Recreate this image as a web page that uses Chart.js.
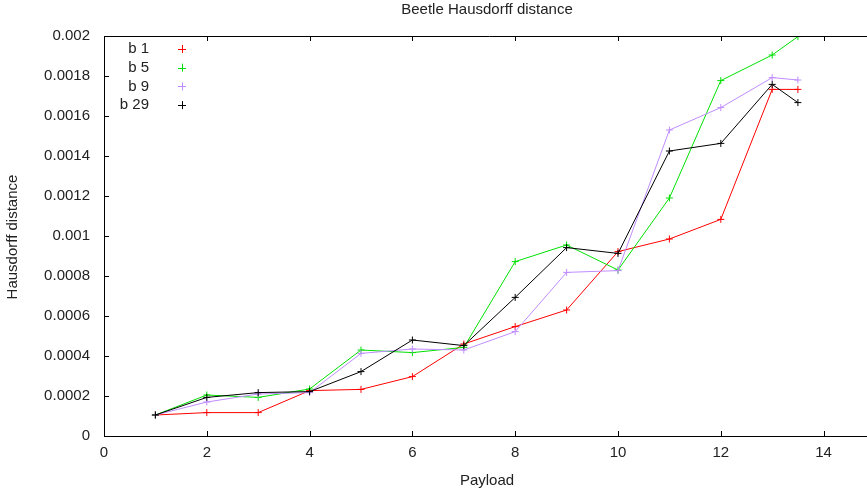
<!DOCTYPE html>
<html>
<head>
<meta charset="utf-8">
<script src="https://cdn.jsdelivr.net/npm/chart.js@4/dist/chart.umd.min.js"></script>
<style>
  html, body { margin: 0; padding: 0; background: #fff; overflow: hidden; }
  #wrap { width: 880px; height: 496px; position: relative; }
</style>
</head>
<body>
<div id="wrap"><canvas id="myChart" width="880" height="496"></canvas></div>
<script>
const payload = [1, 2, 3, 4, 5, 6, 7, 8, 9, 10, 11, 12, 13, 13.5];
const b1  = [0.000105, 0.000117, 0.000117, 0.000227, 0.000233, 0.000297, 0.000460, 0.000547, 0.000630, 0.000922, 0.000985, 0.001083, 0.001733, 0.001733];
const b5  = [0.000105, 0.000205, 0.000193, 0.000235, 0.000430, 0.000417, 0.000443, 0.000872, 0.000955, 0.000830, 0.001190, 0.001777, 0.001905, 0.001997];
const b9  = [0.000105, 0.000170, 0.000210, 0.000217, 0.000413, 0.000435, 0.000430, 0.000522, 0.000818, 0.000827, 0.001530, 0.001642, 0.001792, 0.001780];
const b29 = [0.000105, 0.000193, 0.000217, 0.000222, 0.000322, 0.000480, 0.000452, 0.000693, 0.000942, 0.000913, 0.001425, 0.001463, 0.001758, 0.001667];
const seriesNames = ["b 1", "b 5", "b 9", "b 29"];
const seriesColors = ["#ff0000", "#00e000", "#c08cff", "#000000"];
const xTicks = [0, 2, 4, 6, 8, 10, 12, 14];
const yTicks = [0, 0.0002, 0.0004, 0.0006, 0.0008, 0.001, 0.0012, 0.0014, 0.0016, 0.0018, 0.002];

const FONT = "'Liberation Sans', Arial, sans-serif";

function toPoints(values) {
  return values.map((v, i) => ({ x: payload[i], y: v }));
}

const allSeries = [b1, b5, b9, b29];
const datasets = allSeries.map((vals, i) => ({
  label: seriesNames[i],
  data: toPoints(vals),
  borderColor: seriesColors[i],
  backgroundColor: seriesColors[i],
  borderWidth: 1,
  pointStyle: "cross",
  pointRadius: 3.5,
  pointBorderWidth: 1,
  pointHoverRadius: 3.5,
  tension: 0,
  order: allSeries.length - i,
}));

// gnuplot-like frame, inward ticks, titles and key
const frame = {
  id: "frame",
  afterDraw(chart) {
    const c = chart.ctx;
    const a = chart.chartArea;
    const xs = chart.scales.x;
    const ys = chart.scales.y;
    c.save();
    c.strokeStyle = "#000";
    c.lineWidth = 1;
    c.beginPath();
    c.moveTo(a.left, a.top + 0.5);
    c.lineTo(a.right, a.top + 0.5);
    c.stroke();
    c.beginPath();
    xTicks.forEach(t => {
      const px = Math.round(xs.getPixelForValue(t)) + 0.5;
      c.moveTo(px, a.bottom);
      c.lineTo(px, a.bottom - 5);
      c.moveTo(px, a.top);
      c.lineTo(px, a.top + 5);
    });
    yTicks.forEach(t => {
      const py = Math.round(ys.getPixelForValue(t)) + 0.5;
      c.moveTo(a.left, py);
      c.lineTo(a.left + 5, py);
    });
    c.stroke();

    c.fillStyle = "#222";
    c.font = "15px " + FONT;
    c.textAlign = "center";
    c.textBaseline = "alphabetic";
    c.fillText("Beetle Hausdorff distance", 487, 14);
    c.fillText("Payload", 487, 485);
    c.save();
    c.translate(16.5, 237);
    c.rotate(-Math.PI / 2);
    c.fillText("Hausdorff distance", 0, 0);
    c.restore();

    // key
    c.textAlign = "right";
    c.textBaseline = "middle";
    seriesNames.forEach((name, i) => {
      const y = 49 + i * 18.7;
      c.fillStyle = "#222";
      c.fillText(name, 149, y);
      c.strokeStyle = seriesColors[i];
      c.beginPath();
      c.moveTo(178, Math.round(y) + 0.5);
      c.lineTo(186, Math.round(y) + 0.5);
      c.moveTo(182.5, y - 4);
      c.lineTo(182.5, y + 4);
      c.stroke();
    });
    c.restore();
  }
};

const ctx = document.getElementById("myChart").getContext("2d");
const myChart = new Chart(ctx, {
  type: "line",
  data: { datasets: datasets },
  options: {
    responsive: false,
    animation: false,
    layout: { padding: { left: 0, top: 36, right: 5, bottom: 0 } },
    plugins: {
      legend: { display: false },
      title: { display: false },
      tooltip: { enabled: false },
    },
    scales: {
      x: {
        type: "linear",
        min: 0,
        max: 15,
        afterBuildTicks: (s) => { s.ticks = xTicks.map(v => ({ value: v })); },
        afterFit: (s) => { s.height = 60; },
        grid: { display: false, drawTicks: false },
        border: { display: true, color: "#000", width: 1 },
        ticks: {
          color: "#222",
          padding: 8,
          font: { family: FONT, size: 15 },
          maxRotation: 0,
          callback: (v) => String(v),
        },
      },
      y: {
        type: "linear",
        min: 0,
        max: 0.002,
        afterBuildTicks: (s) => { s.ticks = yTicks.map(v => ({ value: v })); },
        afterFit: (s) => { s.width = 104; },
        grid: { display: false, drawTicks: false },
        border: { display: true, color: "#000", width: 1 },
        ticks: {
          color: "#222",
          padding: 14,
          font: { family: FONT, size: 15 },
          callback: (v) => String(parseFloat(v.toPrecision(6))),
        },
      },
    },
  },
  plugins: [frame],
});
</script>
</body>
</html>
